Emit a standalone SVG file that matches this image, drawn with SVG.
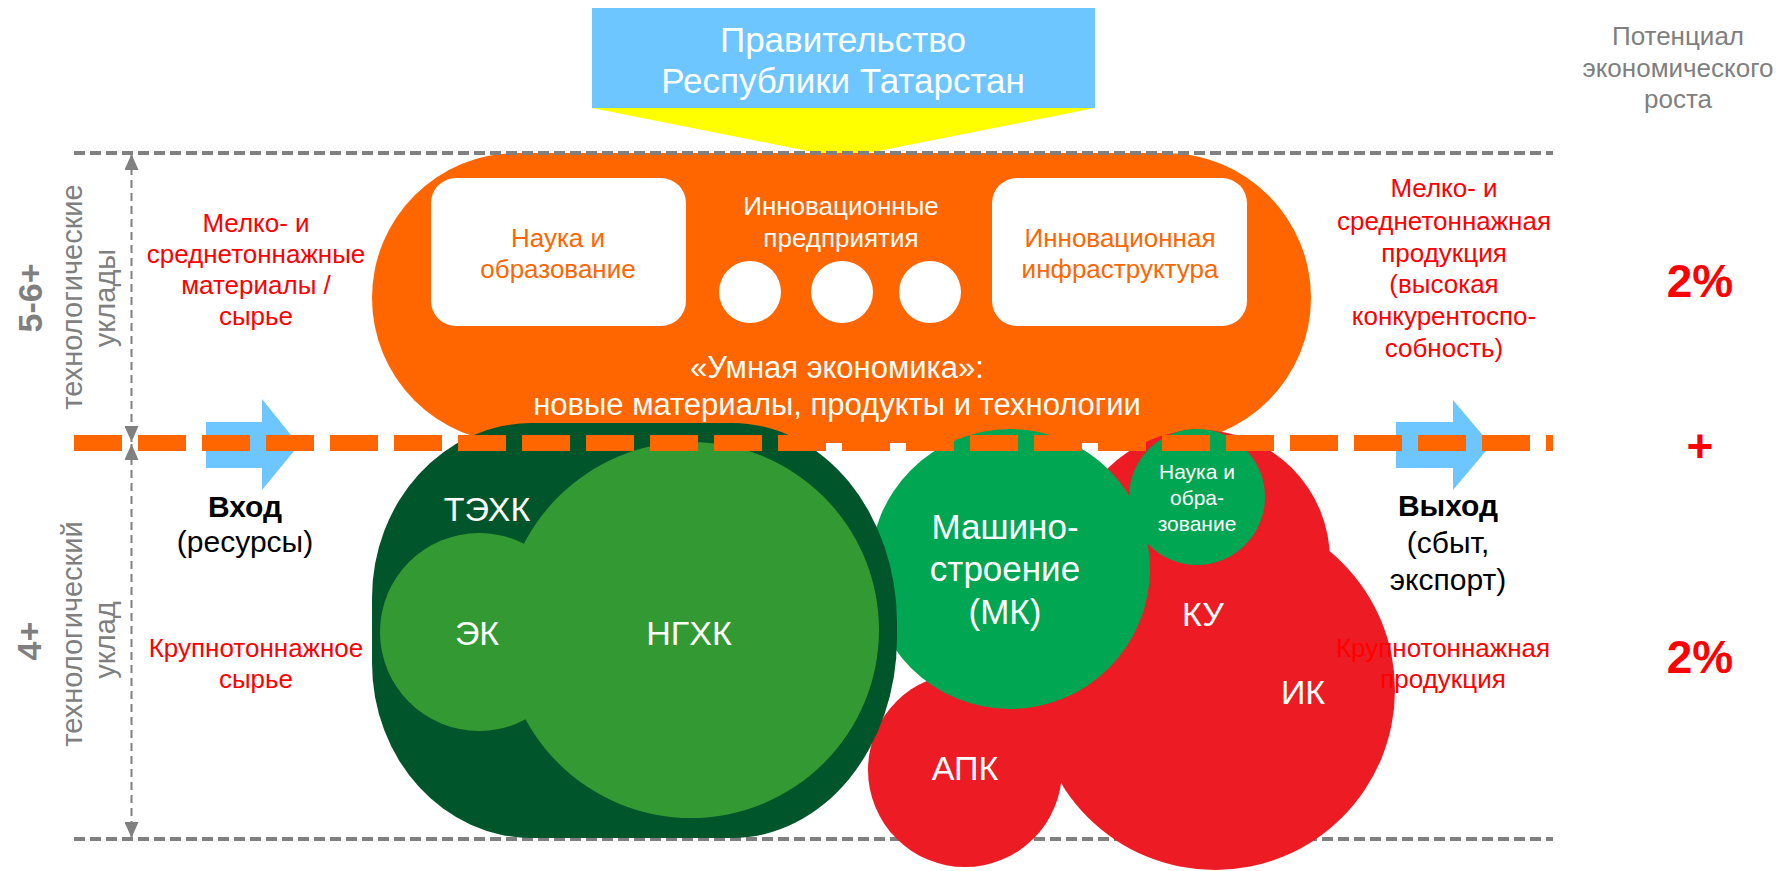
<svg xmlns="http://www.w3.org/2000/svg" width="1778" height="871" viewBox="0 0 1778 871">
  <style>
    text { font-family: "Liberation Sans", Arial, sans-serif; text-anchor: middle; }
    .w34 { fill: #FFFFFF; font-size: 34px; }
    .w26 { fill: #FFFFFF; font-size: 26px; }
    .or26 { fill: #FF6600; font-size: 26px; }
    .red26 { fill: #FF0000; font-size: 26px; }
    .gray26 { fill: #7F7F7F; font-size: 26px; }
    .gray29 { fill: #7F7F7F; font-size: 29px; }
    .grayB { fill: #7F7F7F; font-size: 34px; font-weight: bold; }
    .pct { fill: #FF0000; font-size: 46px; font-weight: bold; }
    .blk { fill: #000000; font-size: 30px; }
    .blkB { fill: #000000; font-size: 30px; font-weight: bold; }
    .gline { stroke: #808080; stroke-width: 4; stroke-dasharray: 11 5; fill: none; }
    .vline { stroke: #808080; stroke-width: 2; stroke-dasharray: 8 5; fill: none; }
    .oline { stroke: #FF6600; stroke-width: 16; stroke-dasharray: 48 16; fill: none; }
    .barrow { fill: #6DC6FF; }
    .red { fill: #ED1C24; }
  </style>
  <defs>
    <marker id="ah" viewBox="0 0 16 14" refX="16" refY="7" markerWidth="16" markerHeight="14" markerUnits="userSpaceOnUse" orient="auto-start-reverse">
      <path d="M0,0 L16,7 L0,14 z" fill="#808080"/>
    </marker>
  </defs>

  <g id="government">
    <polygon points="592,108 1095,108 843,158" fill="#FFFF00"/>
    <rect x="592" y="8" width="503" height="100" fill="#6DC6FF"/>
    <text class="w34" x="843" y="52" style="font-size:35px">Правительство</text>
    <text class="w34" x="843" y="93" style="font-size:35px">Республики Татарстан</text>
  </g>

  <g id="smart-economy">
    <rect x="372" y="153" width="939" height="290" rx="145" ry="145" fill="#FF6600"/>
    <rect x="431" y="178" width="255" height="148" rx="25" fill="#FFFFFF"/>
    <text class="or26" x="558" y="247">Наука и</text>
    <text class="or26" x="558" y="278">образование</text>
    <rect x="992" y="178" width="255" height="148" rx="25" fill="#FFFFFF"/>
    <text class="or26" x="1120" y="247">Инновационная</text>
    <text class="or26" x="1120" y="278">инфраструктура</text>
    <text class="w26" x="841" y="215">Инновационные</text>
    <text class="w26" x="841" y="247">предприятия</text>
    <circle cx="750" cy="292" r="31" fill="#FFFFFF"/>
    <circle cx="842" cy="292" r="31" fill="#FFFFFF"/>
    <circle cx="930" cy="292" r="31" fill="#FFFFFF"/>
    <text class="w26" x="837" y="378" style="font-size:31px">«Умная экономика»:</text>
    <text class="w26" x="837" y="415" style="font-size:31px">новые материалы, продукты и технологии</text>
  </g>

  <g id="guides">
    <line class="gline" x1="74" y1="153" x2="1553" y2="153"/>
    <line class="gline" x1="74" y1="839" x2="1553" y2="839"/>
  </g>

  <g id="red-clusters">
    <circle class="red" cx="1215" cy="690" r="180"/>
    <circle class="red" cx="1200" cy="560" r="130"/>
    <circle class="red" cx="965" cy="770" r="97"/>
  </g>

  <g id="mk">
    <circle cx="1010" cy="569" r="140" fill="#00A651"/>
    <text class="w34" x="1005" y="539" style="font-size:35px">Машино-</text>
    <text class="w34" x="1005" y="581" style="font-size:35px">строение</text>
    <text class="w34" x="1005" y="624" style="font-size:35px">(МК)</text>
  </g>

  <g id="science">
    <circle cx="1197" cy="497" r="68" fill="#00A651"/>
    <text class="w26" x="1197" y="479" style="font-size:21px">Наука и</text>
    <text class="w26" x="1197" y="505" style="font-size:21px">обра-</text>
    <text class="w26" x="1197" y="531" style="font-size:21px">зование</text>
  </g>

  <g id="red-labels">
    <text class="w34" x="1203" y="626">КУ</text>
    <text class="w34" x="1303" y="704">ИК</text>
    <text class="w34" x="965" y="780">АПК</text>
  </g>

  <g id="tehk">
    <path d="M532,423 H732 A165,200 0 0 1 897,623 V638 A165,200 0 0 1 732,838 H532 A160,175 0 0 1 372,663 V598 A160,175 0 0 1 532,423 Z" fill="#00552B"/>
    <circle cx="479" cy="632" r="99" fill="#339933"/>
    <circle cx="691" cy="630" r="188" fill="#339933"/>
    <text class="w34" x="487" y="521">ТЭХК</text>
    <text class="w34" x="477" y="645">ЭК</text>
    <text class="w34" x="689" y="645">НГХК</text>
  </g>

  <g id="connectors">
    <polygon class="barrow" points="206,422 262,422 262,399 299,445 262,490 262,468 206,468"/>
    <polygon class="barrow" points="1396,422 1453,422 1453,400 1491,445 1453,490 1453,468 1396,468"/>
    <line class="oline" x1="74" y1="443" x2="1553" y2="443"/>
    <line class="vline" x1="131.5" y1="154" x2="131.5" y2="442" marker-start="url(#ah)" marker-end="url(#ah)"/>
    <line class="vline" x1="131.5" y1="444" x2="131.5" y2="838" marker-start="url(#ah)" marker-end="url(#ah)"/>
  </g>

  <g id="axis-labels">
    <text class="grayB" transform="translate(42,298) rotate(-90)">5-6+</text>
    <text class="gray29" transform="translate(82,297) rotate(-90)">технологические</text>
    <text class="gray29" transform="translate(115,298) rotate(-90)">уклады</text>
    <text class="grayB" transform="translate(41,641) rotate(-90)">4+</text>
    <text class="gray29" transform="translate(82,634) rotate(-90)">технологический</text>
    <text class="gray29" transform="translate(115,640) rotate(-90)">уклад</text>
  </g>

  <g id="input">
    <text class="red26" x="256" y="232">Мелко- и</text>
    <text class="red26" x="256" y="263">среднетоннажные</text>
    <text class="red26" x="256" y="294">материалы /</text>
    <text class="red26" x="256" y="325">сырье</text>
    <text class="blkB" x="245" y="517">Вход</text>
    <text class="blk" x="245" y="552">(ресурсы)</text>
    <text class="red26" x="256" y="657">Крупнотоннажное</text>
    <text class="red26" x="256" y="688">сырье</text>
  </g>

  <g id="output">
    <text class="red26" x="1444" y="197">Мелко- и</text>
    <text class="red26" x="1444" y="230">среднетоннажная</text>
    <text class="red26" x="1444" y="262">продукция</text>
    <text class="red26" x="1444" y="293">(высокая</text>
    <text class="red26" x="1444" y="325">конкурентоспо-</text>
    <text class="red26" x="1444" y="357">собность)</text>
    <text class="blkB" x="1448" y="516">Выход</text>
    <text class="blk" x="1448" y="553">(сбыт,</text>
    <text class="blk" x="1448" y="590">экспорт)</text>
    <text class="red26" x="1443" y="657">Крупнотоннажная</text>
    <text class="red26" x="1443" y="688">продукция</text>
  </g>

  <g id="growth">
    <text class="gray26" x="1678" y="45">Потенциал</text>
    <text class="gray26" x="1678" y="77">экономического</text>
    <text class="gray26" x="1678" y="108">роста</text>
    <text class="pct" x="1700" y="297">2%</text>
    <text class="pct" x="1700" y="462">+</text>
    <text class="pct" x="1700" y="673">2%</text>
  </g>
</svg>
